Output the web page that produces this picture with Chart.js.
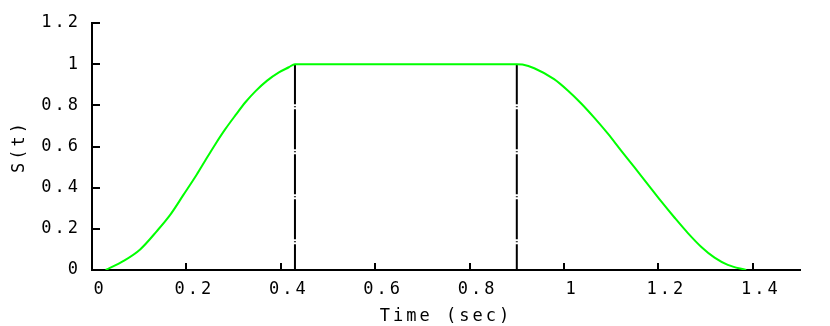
<!DOCTYPE html>
<html>
<head>
<meta charset="utf-8">
<script src="https://cdn.jsdelivr.net/npm/chart.js@4"></script>
<style>
  body { margin: 0; background: #fff; }
  #wrap { width: 830px; height: 326px; }
</style>
</head>
<body>
<div id="wrap"><canvas id="profile-chart"></canvas></div>
<script>
// S(t) curve (time in sec)
const timeValues = [0.029, 0.066, 0.102, 0.137, 0.166, 0.194, 0.222, 0.240, 0.261, 0.282, 0.304, 0.325, 0.346, 0.371, 0.396, 0.417, 0.430,
                    0.900, 0.912, 0.937, 0.979, 1.008, 1.036, 1.064, 1.093, 1.121, 1.149, 1.178, 1.206, 1.234, 1.263, 1.291, 1.319, 1.347, 1.386];
const sValues = [0, 0.043, 0.100, 0.188, 0.269, 0.366, 0.464, 0.532, 0.610, 0.683, 0.752, 0.815, 0.868, 0.920, 0.960, 0.985, 1.0,
                 1.0, 0.998, 0.980, 0.927, 0.872, 0.810, 0.740, 0.662, 0.580, 0.500, 0.415, 0.333, 0.255, 0.178, 0.112, 0.060, 0.025, 0];

// vertical markers where the plateau starts and ends
const markerTimes = [0.43, 0.9];
const markerLevel = 1;

const xTicks = [0, 0.2, 0.4, 0.6, 0.8, 1, 1.2, 1.4];
const xTickLabels = ['0', '0.2', '0.4', '0.6', '0.8', '1', '1.2', '1.4'];
const yTicks = [0, 0.2, 0.4, 0.6, 0.8, 1, 1.2];
const yTickLabels = ['0', '0.2', '0.4', '0.6', '0.8', '1', '1.2'];

const monoFont = { family: "'DejaVu Sans Mono', monospace", size: 17 };

const curve = timeValues.map((t, i) => ({ x: t, y: sValues[i] }));

const markerSets = markerTimes.map(t => ({
    data: [{ x: t, y: markerLevel }, { x: t, y: 0 }],
    borderColor: '#000',
    borderWidth: 2,
    borderDash: [40, 2, 1, 2],
    pointRadius: 0,
    fill: false
}));

// gnuplot style ticks pointing into the plot
const innerTicks = {
    id: 'innerTicks',
    beforeDraw(chart) {
        chart.ctx.letterSpacing = '3px';
    },
    afterDatasetsDraw(chart) {
        const { ctx, chartArea, scales } = chart;
        ctx.save();
        ctx.strokeStyle = '#000';
        ctx.lineWidth = 2;
        ctx.beginPath();
        xTicks.forEach(v => {
            const px = Math.round(scales.x.getPixelForValue(v));
            ctx.moveTo(px, chartArea.bottom);
            ctx.lineTo(px, chartArea.bottom - 7);
        });
        yTicks.forEach(v => {
            const py = Math.round(scales.y.getPixelForValue(v));
            ctx.moveTo(chartArea.left, py);
            ctx.lineTo(chartArea.left + 8, py);
        });
        ctx.stroke();
        ctx.restore();
    }
};

new Chart(document.getElementById('profile-chart'), {
    type: 'line',
    data: {
        datasets: [{
            data: curve,
            borderColor: '#00ff00',
            borderWidth: 2,
            pointRadius: 0,
            cubicInterpolationMode: 'monotone',
            fill: false
        }, ...markerSets]
    },
    options: {
        responsive: true,
        maintainAspectRatio: false,
        animation: false,
        layout: { padding: { top: 23, right: 30, left: 0, bottom: 0 } },
        plugins: { legend: { display: false }, tooltip: { enabled: false } },
        scales: {
            x: {
                type: 'linear',
                min: 0,
                max: 1.5,
                grid: { display: false, drawTicks: false },
                border: { display: true, color: '#000', width: 2 },
                afterBuildTicks: s => { s.ticks = xTicks.map(v => ({ value: v })); },
                afterFit: s => { s.height = 56; },
                ticks: {
                    color: '#000',
                    font: monoFont,
                    padding: 9,
                    labelOffset: 8,
                    maxRotation: 0,
                    callback: (v, i) => xTickLabels[i]
                },
                title: {
                    display: true,
                    text: 'Time (sec)',
                    color: '#000',
                    font: monoFont,
                    padding: { top: 0, bottom: -1 }
                }
            },
            y: {
                type: 'linear',
                min: 0,
                max: 1.2,
                grid: { display: false, drawTicks: false },
                border: { display: true, color: '#000', width: 2 },
                afterBuildTicks: s => { s.ticks = yTicks.map(v => ({ value: v })); },
                afterFit: s => { s.width = 92; },
                ticks: {
                    color: '#000',
                    font: monoFont,
                    padding: 11,
                    callback: (v, i) => yTickLabels[i]
                },
                title: {
                    display: true,
                    text: 'S(t)',
                    color: '#000',
                    font: monoFont,
                    padding: { top: 9, bottom: 0 }
                }
            }
        }
    },
    plugins: [innerTicks]
});
</script>
</body>
</html>
